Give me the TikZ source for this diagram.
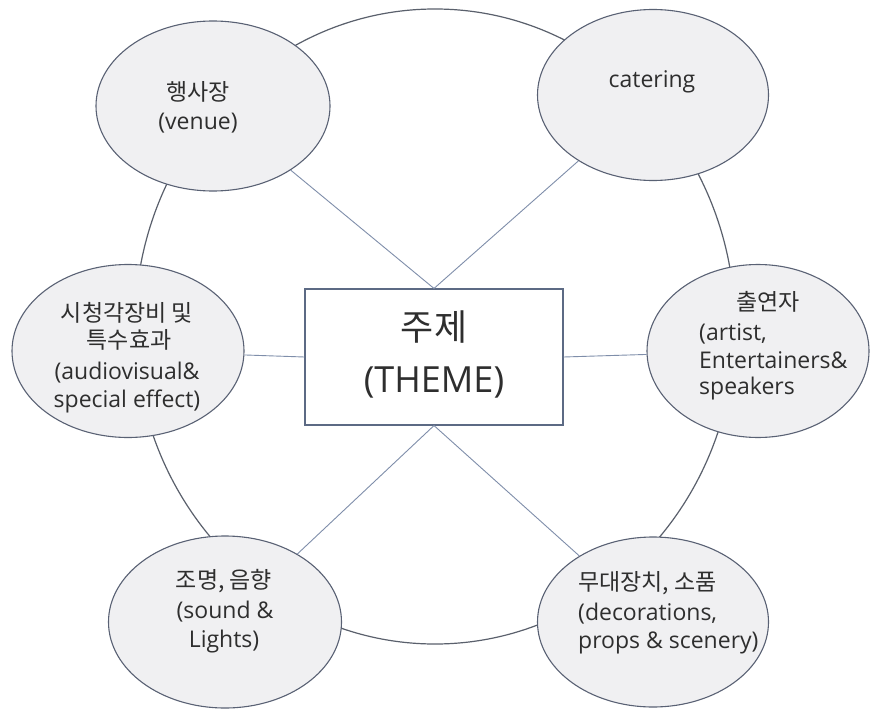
\documentclass[tikz,border=0pt]{standalone}
\usepackage{fontspec}
\setmainfont{Open Sans}
\newfontfamily\kr{Noto Sans CJK KR}
\usetikzlibrary{shapes.geometric}
\definecolor{bubbleline}{HTML}{596174}
\definecolor{bubblefill}{HTML}{F0F0F2}
\definecolor{ringcol}{HTML}{5A606C}
\definecolor{linkcol}{HTML}{7F8EAA}
\definecolor{boxline}{HTML}{5C6A84}
\definecolor{txt}{HTML}{2E2E2E}
\begin{document}
\begin{tikzpicture}[x=1pt,y=-1pt,
  bubble/.style={ellipse, draw=bubbleline, fill=bubblefill, line width=1.1pt, inner sep=0pt},
  link/.style={draw=linkcol, line width=0.9pt},
  lbl/.style={anchor=base, inner sep=0pt, text=txt, font=\fontsize{23}{28}\selectfont},
  lbll/.style={lbl, anchor=base west},
  big/.style={anchor=base, inner sep=0pt, text=txt, font=\fontsize{36}{43}\selectfont},
]
\fill[white] (0,0) rectangle (872,709);
\useasboundingbox (0,0) rectangle (872,709);

\node[ellipse, draw=ringcol, line width=1.2pt, minimum width=600pt, minimum height=635pt, inner sep=0pt] (ring) at (435,326.5) {};

\node[bubble, minimum width=234pt, minimum height=170pt] (venue) at (213,106) {};
\node[bubble, minimum width=231pt, minimum height=171pt] (cater) at (653,95) {};
\node[bubble, minimum width=232pt, minimum height=173pt] (av) at (128,351) {};
\node[bubble, minimum width=222pt, minimum height=173pt] (artist) at (758,351) {};
\node[bubble, minimum width=233pt, minimum height=172pt] (sound) at (225,622) {};
\node[bubble, minimum width=231pt, minimum height=170pt] (deco) at (653,622) {};

\node[draw=boxline, line width=1.1pt, fill=white, minimum width=258pt, minimum height=136pt, inner sep=0pt] (theme) at (434,357) {};

\draw[link] (venue) -- (theme.north);
\draw[link] (cater) -- (theme.north);
\draw[link] (av) -- (theme.west);
\draw[link] (artist) -- (theme.east);
\draw[link] (sound) -- (theme.south);
\draw[link] (deco) -- (theme.south);

% theme text
\node[big] (th1) at (434,340) {\kr 주제};
\node[big] (th2) at (434,392) {(THEME)};

% venue
\node[lbl] (v1) at (198,100) {\kr 행사장};
\node[lbl] (v2) at (198,129) {(venue)};
% catering
\node[lbl] (c1) at (652,88) {catering};
% audiovisual
\node[lbl] (a1) at (127,321) {\kr 시청각장비 및};
\node[lbl] (a2) at (129,348) {\kr 특수효과};
\node[lbl] (a3) at (127,379) {(audiovisual\&};
\node[lbl] (a4) at (127,407) {special effect)};
% artist
\node[lbl] (r1) at (768,310) {\kr 출연자};
\node[lbll] (r2) at (699,340) {(artist,};
\node[lbll] (r3) at (699,368) {Entertainers\&};
\node[lbll] (r4) at (699,394) {speakers};
% sound
\node[lbl] (s1) at (224,588) {\kr 조명, 음향};
\node[lbl] (s2) at (225,618) {(sound \&};
\node[lbl] (s3) at (224,647) {Lights)};
% deco
\node[lbll] (d1) at (578,590) {\kr 무대장치, 소품};
\node[lbll] (d2) at (578,620) {(decorations,};
\node[lbll] (d3) at (578,648) {props \& scenery)};
\end{tikzpicture}
\end{document}
